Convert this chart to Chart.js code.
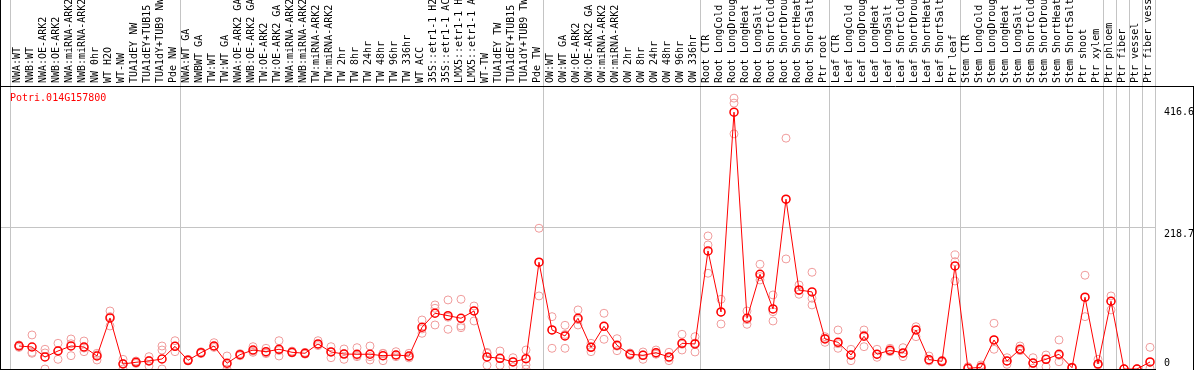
<!DOCTYPE html>
<html>
<head>
<meta charset="utf-8">
<script src="https://cdn.jsdelivr.net/npm/chart.js@4"></script>
<style>
  body { margin: 0; background: #fff; }
  #wrap { width: 1194px; height: 370px; position: relative; }
</style>
</head>
<body>
<div id="wrap"><canvas id="exprChart"></canvas></div>
<script>
const geneId = "Potri.014G157800";

const samples = [
  "NWA:WT", "NWB:WT", "NWA:OE-ARK2", "NWB:OE-ARK2", "NWA:miRNA-ARK2", "NWB:miRNA-ARK2",
  "NW 0hr", "WT H2O", "WT-NW", "TUA1dEY NW", "TUA1dEY+TUB15", "TUA1dY+TUB9 NW", "Pde NW",
  "NWA:WT GA", "NWBWT GA", "TW:WT", "TW:WT GA", "NWA:OE-ARK2 GA", "NWB:OE-ARK2 GA",
  "TW:OE-ARK2", "TW:OE-ARK2 GA", "NWA:miRNA-ARK2 GA", "NWB:miRNA-ARK2 GA", "TW:miRNA-ARK2",
  "TW:miRNA-ARK2 GA", "TW 2hr", "TW 8hr", "TW 24hr", "TW 48hr", "TW 96hr", "TW 336hr",
  "WT ACC", "35S::etr1-1 H2O", "35S::etr1-1 ACC", "LMX5::etr1-1 H2O", "LMX5::etr1-1 ACC",
  "WT-TW", "TUA1dEY TW", "TUA1dEY+TUB15", "TUA1dY+TUB9 TW", "Pde TW",
  "OW:WT", "OW:WT GA", "OW:OE-ARK2", "OW:OE-ARK2 GA", "OW:miRNA-ARK2", "OW:miRNA-ARK2 GA",
  "OW 2hr", "OW 8hr", "OW 24hr", "OW 48hr", "OW 96hr", "OW 336hr",
  "Root CTR", "Root LongCold", "Root LongDrought", "Root LongHeat", "Root LongSalt",
  "Root ShortCold", "Root ShortDrought", "Root ShortHeat", "Root ShortSalt", "Ptr root",
  "Leaf CTR", "Leaf LongCold", "Leaf LongDrought", "Leaf LongHeat", "Leaf LongSalt",
  "Leaf ShortCold", "Leaf ShortDrought", "Leaf ShortHeat", "Leaf ShortSalt", "Ptr leaf",
  "Stem CTR", "Stem LongCold", "Stem LongDrought", "Stem LongHeat", "Stem LongSalt",
  "Stem ShortCold", "Stem ShortDrought", "Stem ShortHeat", "Stem ShortSalt",
  "Ptr shoot", "Ptr xylem", "Ptr phloem", "Ptr fiber", "Ptr vessel", "Ptr fiber vessel"
];

// mean expression per sample
const meanValues = [
  37.3, 35.7, 19.5, 29.2, 37.3, 35.7, 21.1, 82.8, 8.1, 10.9,
  13.0, 16.2, 36.8, 14.1, 26.5, 37.3, 9.3, 23.2, 30.8, 28.1,
  32.0, 27.1, 25.5, 40.6, 27.6, 24.3, 23.9, 23.9, 21.6, 22.7,
  21.1, 67.7, 90.4, 86.5, 82.3, 94.1, 19.5, 17.4, 11.4, 16.7,
  173.2, 63.3, 53.6, 82.3, 35.2, 69.3, 38.5, 23.9, 22.2, 26.5,
  19.5, 41.7, 40.6, 191.5, 92.5, 416.6, 82.3, 153.7, 97.4, 275.4,
  128.2, 125.0, 48.7, 43.3, 22.7, 53.1, 23.9, 30.3, 26.0, 63.3,
  15.1, 12.5, 167.2, 1.1, 2.8, 47.1, 13.0, 32.0, 9.7, 15.7,
  23.9, 2.1, 116.4, 8.1, 109.9, 0, 0, 11.4
];

// individual replicates
const repA = [
  39, 55.2, 32, 41.7, 48.7, 45.4, 25.5, 94.1, 15.7, 13,
  20, 37.3, 45.9, 15.7, 28, 42.7, 21.1, 25, 36.2, 33.6,
  45.9, 29, 27, 45.9, 36.2, 32.5, 34.6, 37.3, 25.5, 28.1,
  25.5, 79.5, 103.9, 112, 113.1, 102.2, 25.5, 29.2, 18.3, 30.8,
  228.3, 84.9, 70.9, 95.8, 41.7, 90.4, 49.2, 26, 27.6, 30.8,
  27.1, 56.3, 52.4, 215.8, 113.1, 439.3, 94.1, 169.9, 120.1, 374.4,
  136.3, 156.9, 52.4, 63.3, 32, 63.3, 32, 33.6, 34.6, 68.6,
  21.1, 14, 185, 3.7, 6.5, 74.2, 18.3, 37.3, 18.3, 22.7,
  47.1, 3, 152.1, 15.7, 118.5, 0.5, 0.5, 35.2
];
const repB = [
  35, 25.5, 0, 15.7, 21.6, 28.1, 14.6, 69.8, 0, 9,
  4.9, 30.8, 28.1, 13, 25, 35, 0, 21.5, 29, 25,
  21.1, 26, 24, 38, 18.3, 15.7, 20, 14.6, 13.5, 20,
  18, 57.9, 98.5, 64.4, 69.8, 77.9, 6, 6, 3.7, 6.5,
  118.5, 33.6, 33.6, 71.4, 28.1, 48.2, 29.7, 22, 15.7, 23.9,
  13.5, 30.8, 27.6, 201.2, 73, 431.2, 72.5, 144.4, 93, 178.5,
  121.2, 114.7, 43.3, 33.6, 13.5, 36.2, 19, 28.1, 20, 52.4,
  13, 11, 174.1, 0.5, 1.5, 32, 7.6, 29.7, 1.1, 3.7,
  11.8, 1.5, 84.9, 6.5, 95.8, 0, 0, 1.1
];
const repC = [
  38, 27, 26, 30, 41, 34, 23, 85, 9, 11,
  14, 0, 37, 14, 26.5, 37, 7, 23, 27, 26,
  30, 27, 25.5, 40, 28, 25, 22, 20, 25, 23,
  20, 65, 71.4, 84, 67, 94, 27, 17, 12, 0,
  173, 63, 56, 80, 36, 69, 37, 24, 23, 25,
  18, 40, 42, 155.3, 92, 381.4, 80, 150, 77.9, 275,
  127, 103.9, 50, 41, 22, 55, 24, 30, 25, 64,
  15, 12.5, 142.8, 1, 3, 47, 13, 31, 9, 16,
  22, 2, 116, 8, 110, 0, 0, 11
];

const yTickValues = [0, 218.7, 416.6];

// first sample index of each block (last one = end of list)
const groupStarts = [0, 13, 41, 53, 63, 73, 84, 85, 86, 87, 88];

const monoFont = { family: "DejaVu Sans Mono", size: 10 };
const gridGray = "#c4c4c4";
const clear = "rgba(0,0,0,0)";

function toPoints(values) {
  return values.map((v, i) => ({ x: i, y: v }));
}

const framePlugin = {
  id: "frame",
  afterDraw(chart) {
    const { ctx, chartArea } = chart;
    ctx.save();
    ctx.strokeStyle = "#000";
    ctx.lineWidth = 1;
    ctx.beginPath();
    ctx.moveTo(0.5, 0);
    ctx.lineTo(0.5, chart.height);
    ctx.moveTo(0, chartArea.top + 0.5);
    ctx.lineTo(chart.width, chartArea.top + 0.5);
    ctx.moveTo(0, chartArea.bottom + 0.5);
    ctx.lineTo(chartArea.right, chartArea.bottom + 0.5);
    ctx.moveTo(chart.width - 0.5, chartArea.top);
    ctx.lineTo(chart.width - 0.5, chart.height);
    ctx.stroke();

    // gene id in the corner of the plot
    ctx.fillStyle = "#ff0000";
    ctx.font = '10px "DejaVu Sans Mono"';
    ctx.textBaseline = "alphabetic";
    ctx.fillText(chart.data.datasets[0].label, 10, chartArea.top + 15);
    ctx.restore();
  },
};

const repStyle = {
  showLine: false,
  pointRadius: 4,
  pointBorderWidth: 1,
  pointBorderColor: "#f09c9c",
  pointBackgroundColor: clear,
  clip: false,
};

const ctx = document.getElementById("exprChart").getContext("2d");

new Chart(ctx, {
  type: "line",
  data: {
    datasets: [
      {
        label: geneId,
        data: toPoints(meanValues),
        borderColor: "#ff0000",
        borderWidth: 1,
        pointRadius: 4,
        pointBorderWidth: 1.5,
        pointBorderColor: "#ff0000",
        pointBackgroundColor: clear,
        tension: 0,
        clip: false,
      },
      { label: "rep A", data: toPoints(repA), ...repStyle },
      { label: "rep B", data: toPoints(repB), ...repStyle },
      { label: "rep C", data: toPoints(repC), ...repStyle },
    ],
  },
  options: {
    responsive: true,
    maintainAspectRatio: false,
    animation: false,
    layout: { autoPadding: false, padding: { left: 0, right: 0, top: 0, bottom: 1 } },
    plugins: {
      legend: { display: false },
      tooltip: { enabled: false },
    },
    scales: {
      x: {
        type: "linear",
        position: "top",
        min: -19 / 13,
        max: 1137 / 13,
        afterBuildTicks: (scale) => {
          const labelTicks = samples.map((s, i) => ({ value: i }));
          const breakTicks = groupStarts.map((k) => ({ value: k - 8 / 13 }));
          scale.ticks = labelTicks.concat(breakTicks);
        },
        afterFit: (scale) => {
          scale.height = 86;
          scale.paddingLeft = 0;
          scale.paddingRight = 0;
        },
        ticks: {
          autoSkip: false,
          minRotation: 90,
          maxRotation: 90,
          padding: -83,
          labelOffset: 10,
          color: "#000",
          font: monoFont,
          callback: (value) => (Number.isInteger(value) ? samples[value] : ""),
        },
        grid: {
          drawTicks: true,
          tickLength: 86,
          color: (c) => (c.tick && Number.isInteger(c.tick.value) ? clear : gridGray),
        },
        border: { display: false },
      },
      y: {
        type: "linear",
        position: "right",
        min: 0,
        max: 459,
        afterBuildTicks: (scale) => {
          const mid = (scale.min + scale.max) / 2;
          scale.ticks = yTickValues.map((v) => ({ value: v })).concat([{ value: mid }]);
        },
        afterFit: (scale) => {
          scale.width = 38;
          scale.paddingTop = 0;
          scale.paddingBottom = 0;
        },
        ticks: {
          padding: 8,
          color: "#000",
          font: monoFont,
          callback: (value) => {
            if (value === 0) return ["0", ""];
            if (yTickValues.includes(value)) return value.toFixed(1);
            return "";
          },
        },
        grid: {
          drawTicks: false,
          color: (c) => (c.tick && !yTickValues.includes(c.tick.value) ? gridGray : clear),
        },
        border: { display: false },
      },
    },
  },
  plugins: [framePlugin],
});
</script>
</body>
</html>
